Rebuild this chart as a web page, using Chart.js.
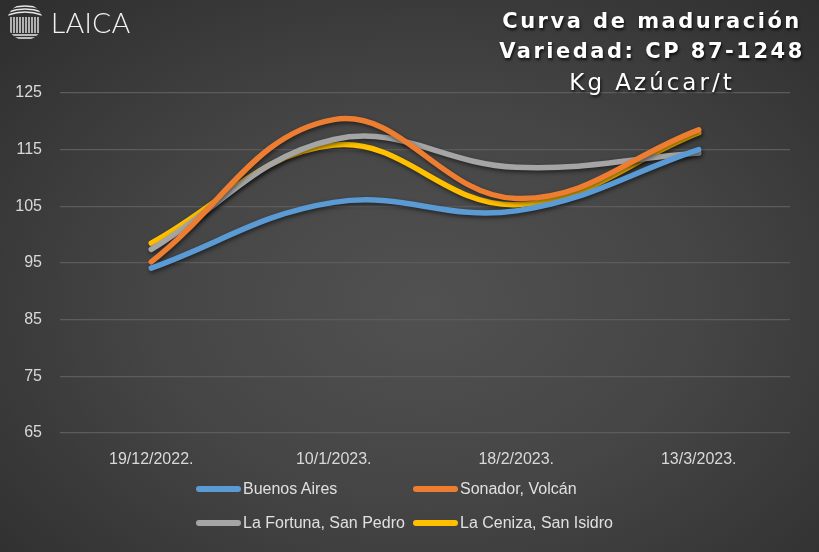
<!DOCTYPE html>
<html>
<head>
<meta charset="utf-8">
<script src="https://cdn.jsdelivr.net/npm/chart.js@4"></script>
<style>
  html, body { margin: 0; padding: 0; }
  body {
    width: 819px; height: 552px; overflow: hidden; position: relative;
    background: radial-gradient(ellipse 75% 80% at 52% 55%, #515151 0%, #454545 45%, #2c2c2c 100%);
    font-family: "Liberation Sans", Arial, sans-serif;
  }
  #wrap { position: absolute; left: 0; top: 0; width: 819px; height: 552px; }
  #logo { position: absolute; left: 6px; top: 2px; height: 40px; display: flex; align-items: center; }
  #logo span { font-family: Lato, "Open Sans", sans-serif; font-weight: 300; font-size: 28px; color: #f2f2f2; margin-left: 7px; letter-spacing: 0.5px; }
  #title {
    position: absolute; right: 2px; top: 6px; width: 330px; text-align: center;
    color: #ffffff; font-family: "DejaVu Sans", sans-serif; font-size: 21px; line-height: 30px;
    text-shadow: 1px 2px 3px rgba(0,0,0,0.8);
  }
  #title .b { font-weight: bold; letter-spacing: 2.5px; }
  #title .n { font-weight: normal; letter-spacing: 3px; font-size: 23px; margin-top: 1px; }
  #legend { position: absolute; left: 196px; top: 476px; width: 460px; }
  .item { position: absolute; display: flex; align-items: center; color: #e0e0e0; font-size: 16px; height: 26px; }
  .item i { display: inline-block; width: 45px; height: 6px; border-radius: 3px; margin-right: 2px; }
</style>
</head>
<body>
<div id="wrap"><canvas id="chart" width="819" height="552"></canvas></div>
<div id="logo">
  <svg width="38" height="38" viewBox="0 0 38 38">
    <defs><clipPath id="c"><circle cx="19" cy="19" r="18"/></clipPath></defs>
    <g clip-path="url(#c)" stroke="#e8e8e8" stroke-width="1.4" fill="none">
      <path d="M2 6 Q19 0 36 6 M2 9 Q19 3 36 9 M2 12 Q19 6 36 12"/>
      <path d="M5 14 V30 M8 14 V30 M11 14 V30 M14 14 V30 M17 14 V30 M20 14 V30 M23 14 V30 M26 14 V30 M29 14 V30 M32 14 V30"/>
      <path d="M4 32 H34 M6 35 H32"/>
    </g>
  </svg>
  <span>LAICA</span>
</div>
<div id="title">
  <div class="b">Curva de maduración</div>
  <div class="b">Variedad: CP 87-1248</div>
  <div class="n">Kg Azúcar/t</div>
</div>
<div id="legend"></div>
<script>
var fechas = ["19/12/2022.", "10/1/2023.", "18/2/2023.", "13/3/2023."];
var buenosAires = [94.1, 105.7, 104.2, 115.0];
var sonador = [95.2, 120.3, 106.4, 118.5];
var laFortuna = [97.4, 116.8, 111.9, 114.4];
var laCeniza = [98.5, 115.8, 105.3, 118.0];
var nombres = ["Buenos Aires", "Sonador, Volcán", "La Fortuna, San Pedro", "La Ceniza, San Isidro"];
var colores = ["#5B9BD5", "#ED7D31", "#A5A5A5", "#FFC000"];
var ejeY = { min: 65, max: 125, paso: 10 };

function serie(i, datos) {
    return {
        label: nombres[i],
        data: datos,
        borderColor: colores[i],
        backgroundColor: colores[i],
        borderWidth: 5.5,
        pointRadius: 0,
        tension: 0.4,
        borderCapStyle: "round",
        fill: false
    };
}

// sombra bajo las lineas
var sombra = {
    id: "sombra",
    beforeDatasetsDraw: function (chart) {
        var ctx = chart.ctx;
        ctx.save();
        ctx.shadowColor = "rgba(0,0,0,0.55)";
        ctx.shadowBlur = 4;
        ctx.shadowOffsetX = 1;
        ctx.shadowOffsetY = 2;
    },
    afterDatasetsDraw: function (chart) {
        chart.ctx.restore();
    }
};

// leyenda en dos columnas como en el original
var leyendaHtml = {
    id: "leyendaHtml",
    afterUpdate: function (chart) {
        var cont = document.getElementById("legend");
        cont.innerHTML = "";
        chart.data.datasets.forEach(function (ds, i) {
            var el = document.createElement("div");
            el.className = "item";
            el.style.left = (i % 2 === 0 ? 0 : 217) + "px";
            el.style.top = (Math.floor(i / 2) * 34) + "px";
            el.innerHTML = '<i style="background:' + ds.borderColor + '"></i>' + ds.label;
            cont.appendChild(el);
        });
    }
};

var ctx = document.getElementById("chart").getContext("2d");
var grafica = new Chart(ctx, {
    type: "line",
    data: {
        labels: fechas,
        datasets: [
            serie(0, buenosAires),
            serie(1, sonador),
            serie(2, laFortuna),
            serie(3, laCeniza)
        ]
    },
    options: {
        responsive: false,
        animation: false,
        layout: { padding: { top: 93, right: 29, bottom: 79, left: 0 } },
        plugins: {
            legend: { display: false },
            tooltip: { enabled: false }
        },
        scales: {
            x: {
                offset: true,
                grid: { display: false, drawTicks: false },
                border: { display: false },
                ticks: { color: "#d9d9d9", font: { size: 16, family: "Liberation Sans" }, padding: 17, maxRotation: 0 },
                afterFit: function (axis) { axis.height = 40; }
            },
            y: {
                min: ejeY.min,
                max: ejeY.max,
                ticks: { stepSize: ejeY.paso, color: "#d9d9d9", font: { size: 16, family: "Liberation Sans" }, padding: 18 },
                grid: { color: "#5c5c5c", lineWidth: 1.3, drawTicks: false },
                border: { display: false },
                afterFit: function (axis) { axis.width = 60; }
            }
        }
    },
    plugins: [sombra, leyendaHtml]
});
</script>
</body>
</html>
